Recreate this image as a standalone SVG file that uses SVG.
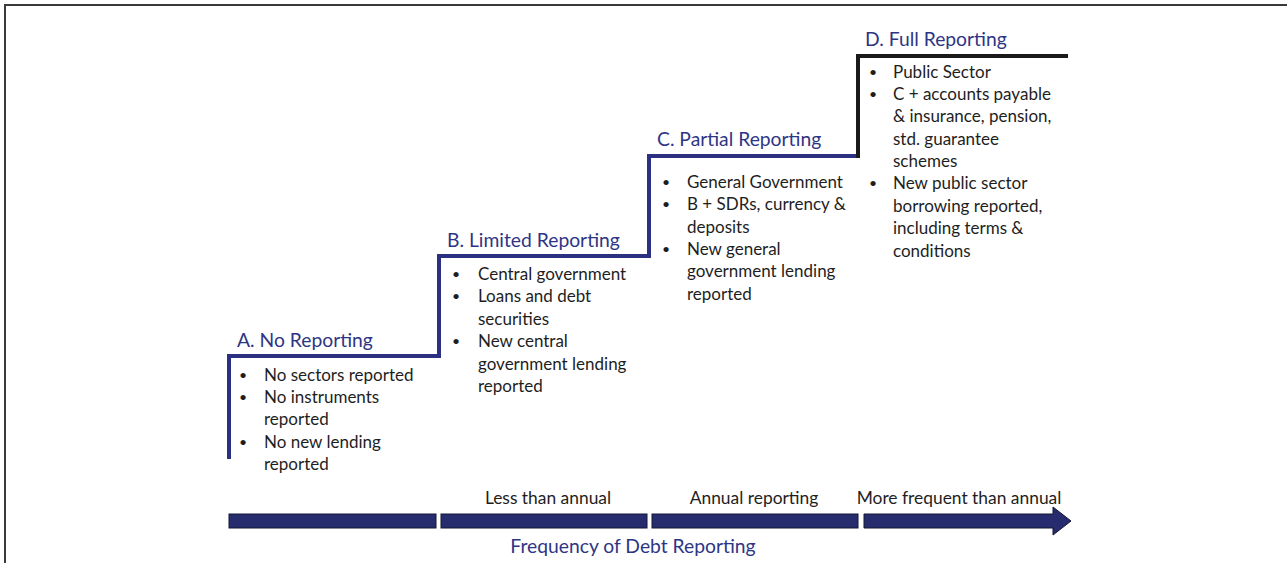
<svg xmlns="http://www.w3.org/2000/svg" width="1287" height="563" viewBox="0 0 1287 563">
  <style>
    .title { font-family: Lato, "Open Sans", sans-serif; font-size: 19.3px; fill: #2e3585; }
    .body { font-family: Lato, "Open Sans", sans-serif; font-size: 17px; fill: #1e1e1e; }
    .dot { font-family: Lato, "Open Sans", sans-serif; font-size: 14px; fill: #1e1e1e; }
    .freq { font-family: Lato, "Open Sans", sans-serif; font-size: 17.4px; fill: #1e1e1e; text-anchor: middle; }
    .axis { font-family: Lato, "Open Sans", sans-serif; font-size: 19.3px; fill: #2e3585; text-anchor: middle; }
    .step { fill: none; stroke-width: 4; stroke-linejoin: miter; }
    .bar { fill: #262c6e; stroke: #141633; stroke-width: 1; }
  </style>

  <rect width="1287" height="563" fill="#ffffff"/>
  <!-- outer frame: top and left edges -->
  <path d="M5 563 V5 H1287" fill="none" stroke="#3a3a3a" stroke-width="2"/>

  <!-- staircase connectors -->
  <g id="connectors">
    <path class="step" stroke="#2b3080" d="M229 459 V356 H439 V256 H649 V156 H858"/>
    <path class="step" stroke="#1a1a1a" d="M858 158 V56 H1068"/>
  </g>

  <g id="stage-a">
    <text class="title" x="237" y="347">A. No Reporting</text>
    <g class="dot">
      <text x="239" y="380">•</text><text x="239" y="402">•</text><text x="239" y="447">•</text>
    </g>
    <g class="body">
      <text x="264" y="381">No sectors reported</text>
      <text x="264" y="403">No instruments</text>
      <text x="264" y="425">reported</text>
      <text x="264" y="448">No new lending</text>
      <text x="264" y="470">reported</text>
    </g>
  </g>

  <g id="stage-b">
    <text class="title" x="447" y="247">B. Limited Reporting</text>
    <g class="dot">
      <text x="452" y="279">•</text><text x="452" y="301">•</text><text x="452" y="346">•</text>
    </g>
    <g class="body">
      <text x="478" y="280">Central government</text>
      <text x="478" y="302">Loans and debt</text>
      <text x="478" y="325">securities</text>
      <text x="478" y="347">New central</text>
      <text x="478" y="370">government lending</text>
      <text x="478" y="392">reported</text>
    </g>
  </g>

  <g id="stage-c">
    <text class="title" x="657" y="146">C. Partial Reporting</text>
    <g class="dot">
      <text x="662" y="187">•</text><text x="662" y="209">•</text><text x="662" y="254">•</text>
    </g>
    <g class="body">
      <text x="687" y="188">General Government</text>
      <text x="687" y="210">B + SDRs, currency &amp;</text>
      <text x="687" y="233">deposits</text>
      <text x="687" y="255">New general</text>
      <text x="687" y="277">government lending</text>
      <text x="687" y="300">reported</text>
    </g>
  </g>

  <g id="stage-d">
    <text class="title" x="865" y="46">D. Full Reporting</text>
    <g class="dot">
      <text x="869" y="77">•</text><text x="869" y="99">•</text><text x="869" y="188">•</text>
    </g>
    <g class="body">
      <text x="893" y="78">Public Sector</text>
      <text x="893" y="100">C + accounts payable</text>
      <text x="893" y="122">&amp; insurance, pension,</text>
      <text x="893" y="145">std. guarantee</text>
      <text x="893" y="167">schemes</text>
      <text x="893" y="189">New public sector</text>
      <text x="893" y="212">borrowing reported,</text>
      <text x="893" y="234">including terms &amp;</text>
      <text x="893" y="257">conditions</text>
    </g>
  </g>

  <!-- frequency axis -->
  <g id="frequency-axis">
    <rect class="bar" x="229" y="514" width="207" height="14"/>
    <rect class="bar" x="441" y="514" width="206" height="14"/>
    <rect class="bar" x="652" y="514" width="206" height="14"/>
    <path class="bar" d="M864 514 H1053 V507 L1071 521 L1053 535 V528 H864 Z"/>
    <text class="freq" x="548" y="504">Less than annual</text>
    <text class="freq" x="754" y="504">Annual reporting</text>
    <text class="freq" x="959" y="504">More frequent than annual</text>
    <text class="axis" x="633" y="553">Frequency of Debt Reporting</text>
  </g>
</svg>
